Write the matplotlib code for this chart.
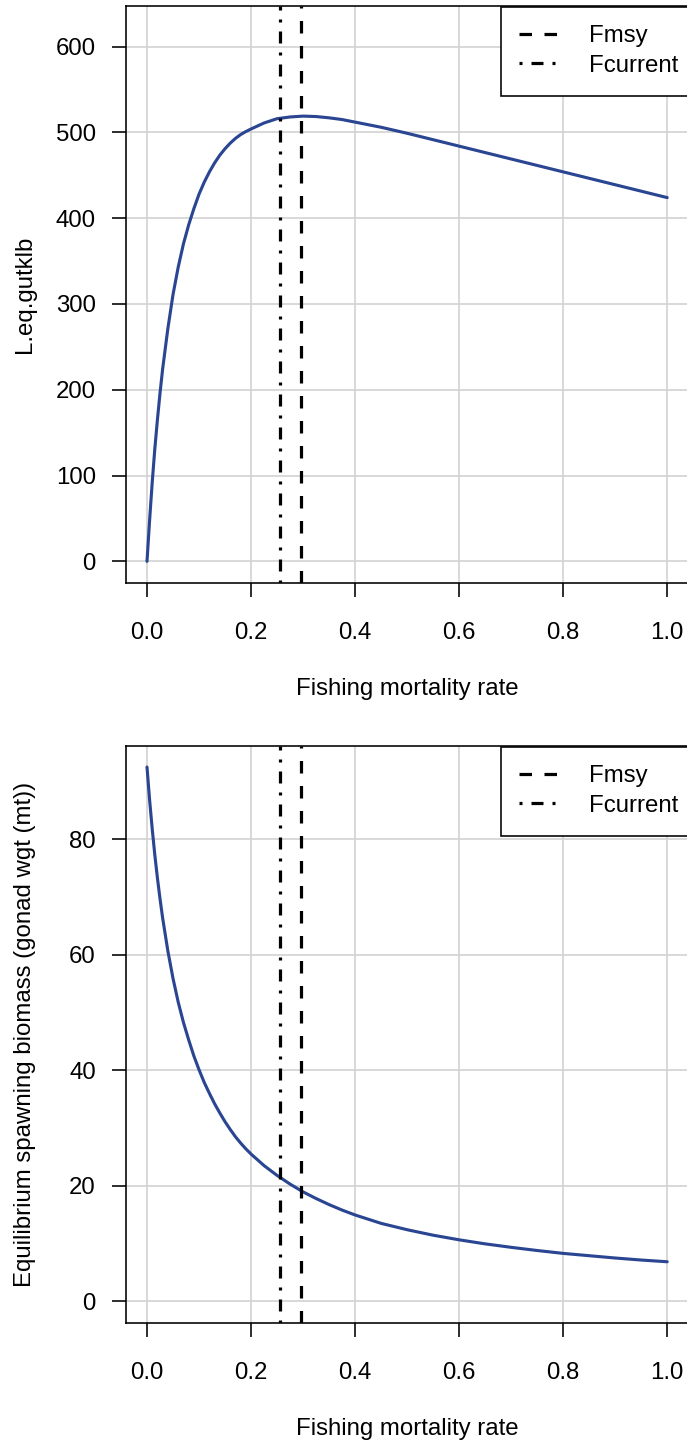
import matplotlib
matplotlib.use('Agg')
import matplotlib.pyplot as plt
from matplotlib.lines import Line2D

plt.rcParams['font.family'] = ['Liberation Sans', 'DejaVu Sans']
plt.rcParams['font.size'] = 12
plt.rcParams['lines.scale_dashes'] = False

# ---------------- data ----------------
F = [0, 0.005, 0.01, 0.015, 0.02, 0.025, 0.03, 0.04, 0.05, 0.06, 0.07, 0.08,
     0.09, 0.10, 0.11, 0.12, 0.13, 0.14, 0.15, 0.16, 0.17, 0.18, 0.19, 0.20,
     0.225, 0.25, 0.275, 0.30, 0.325, 0.35, 0.375, 0.40, 0.45, 0.50, 0.55,
     0.60, 0.65, 0.70, 0.75, 0.80, 0.85, 0.90, 0.95, 1.00]
L_eq = [0, 48, 92, 131, 165, 196, 224, 271, 311, 343, 370, 392,
        411, 428, 442, 454, 464.5, 473.5, 481, 487.5, 493, 497.5, 501, 504,
        511, 516, 518, 519, 518.5, 517, 515, 512, 506, 499, 491.5,
        484, 476.5, 469, 461.5, 454, 446.5, 439, 431.5, 424]
SSB = [92.5, 86.8, 81.8, 77.3, 73.3, 69.7, 66.4, 60.7, 55.9, 51.8, 48.3, 45.3,
       42.5, 40.1, 37.9, 36.0, 34.2, 32.6, 31.1, 29.75, 28.5, 27.4, 26.4, 25.5,
       23.5, 21.8, 20.3, 18.95, 17.8, 16.75, 15.8, 14.95, 13.5, 12.4, 11.45,
       10.65, 9.95, 9.35, 8.8, 8.3, 7.9, 7.5, 7.15, 6.85]
Fmsy = 0.296
Fcurrent = 0.256
x_ticks = [0.0, 0.2, 0.4, 0.6, 0.8, 1.0]
x_ticklabels = ['0.0', '0.2', '0.4', '0.6', '0.8', '1.0']
top_yticks = [0, 100, 200, 300, 400, 500, 600]
bot_yticks = [0, 20, 40, 60, 80]
legend_labels = ['Fmsy', 'Fcurrent']
xlabel = 'Fishing mortality rate'
top_ylabel = 'L.eq.gutklb'
bot_ylabel = 'Equilibrium spawning biomass (gonad wgt (mt))'

# ---------------- layout ----------------
W, H, DPI = 687, 1443, 144
fig = plt.figure(figsize=(W / DPI, H / DPI), dpi=DPI)
fig.patch.set_facecolor('white')


def px_axes(left, top, right, bottom):
    return [left / W, 1 - bottom / H, (right - left) / W, (bottom - top) / H]


CURVE = '#2A4592'
GRID = '#D3D3D3'
DASH = (0, (6.25, 6.25))
DOTDASH = (0, (1.5, 4.5, 6.0, 4.5))


def panel(ax, y, ymax, yticks, ylabel):
    ax.set_xlim(-0.04, 1.04)
    ax.set_ylim(-0.04 * ymax, 1.04 * ymax)
    ax.set_xticks(x_ticks)
    ax.set_xticklabels(x_ticklabels)
    ax.set_yticks(yticks)
    ax.set_yticklabels([str(v) for v in yticks])
    ax.grid(True, color=GRID, lw=0.85, zorder=0)
    ax.set_axisbelow(True)
    ax.plot(F, y, color=CURVE, lw=1.55, zorder=3, solid_capstyle='round',
            solid_joinstyle='round')
    ax.axvline(Fmsy, color='black', lw=1.6, linestyle=DASH, zorder=4)
    ax.axvline(Fcurrent, color='black', lw=1.6, linestyle=DOTDASH, zorder=4)
    for s in ax.spines.values():
        s.set_linewidth(0.8)
        s.set_color('black')
    ax.tick_params(direction='out', length=7.2, width=0.8, labelsize=12,
                   colors='black')
    ax.tick_params(axis='x', pad=12.3)
    ax.tick_params(axis='y', pad=8.0)
    ax.set_xlabel(xlabel, fontsize=12)
    ax.xaxis.set_label_coords(0.5, -(689 - 582.7) / 577)
    ax.xaxis.label.set_va('center')
    ax.set_ylabel(ylabel, fontsize=12)
    ax.yaxis.set_label_coords((25 - 126.2) / 561.8, 0.5)
    ax.yaxis.label.set_va('center')

    handles = [Line2D([], [], color='black', lw=1.6, linestyle=DASH),
               Line2D([], [], color='black', lw=1.6, linestyle=DOTDASH)]
    leg = ax.legend(handles, legend_labels, loc='upper right',
                    bbox_to_anchor=((696.6 - 126.2) / 561.8, 1 - 1.0 / 577),
                    borderaxespad=0, frameon=True, fancybox=False,
                    edgecolor='black', framealpha=1, fontsize=12,
                    handlelength=1.5625, handletextpad=1.32,
                    borderpad=0.78, labelspacing=0.31)
    leg.get_frame().set_linewidth(0.8)
    leg.set_zorder(5)


ax1 = fig.add_axes(px_axes(126.2, 5.7, 688, 582.7))
ax2 = fig.add_axes(px_axes(126.2, 745.7, 688, 1322.7))

panel(ax1, L_eq, 1.2 * max(L_eq), top_yticks, top_ylabel)
panel(ax2, SSB, max(SSB), bot_yticks, bot_ylabel)

fig.savefig('out.png', dpi=DPI, facecolor='white')
